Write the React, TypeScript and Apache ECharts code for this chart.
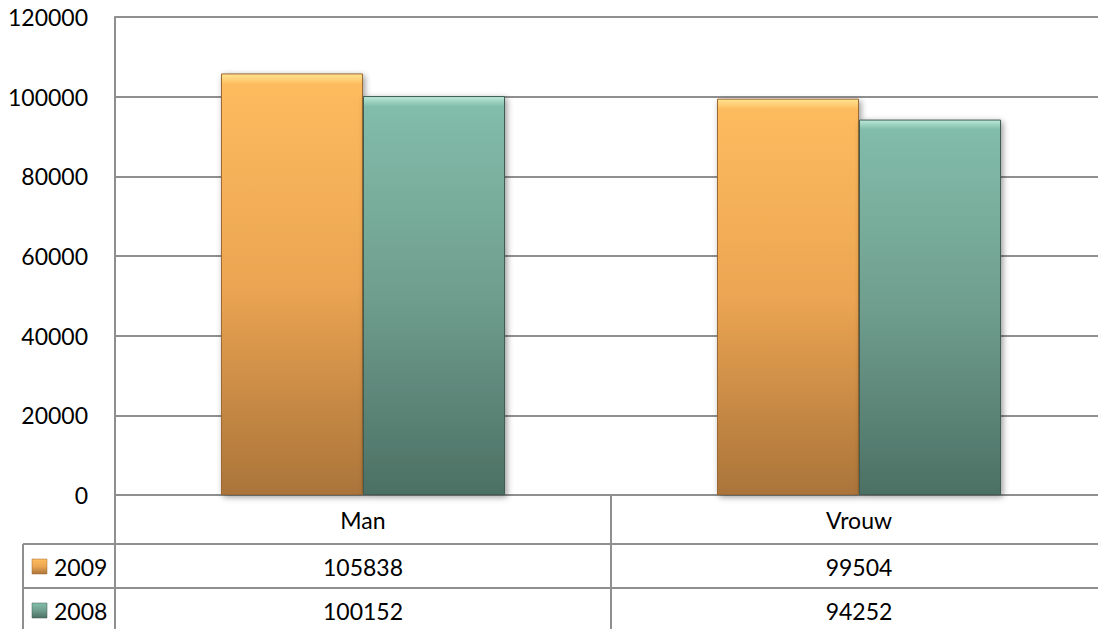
import React, { useEffect, useRef } from "react";
import * as echarts from "echarts";

const categories = ["Man", "Vrouw"];
const seriesNames = ["2009", "2008"];
const values2009 = [105838, 99504];
const values2008 = [100152, 94252];
const yMin = 0;
const yMax = 120000;
const yInterval = 20000;

const FONT = "Lato";
const FS = 23;
const LINE = "#8f8f8f";

const orangeGrad = () =>
  new echarts.graphic.LinearGradient(0, 0, 0, 1, [
    { offset: 0, color: "#ffe390" },
    { offset: 0.012, color: "#ffd27a" },
    { offset: 0.025, color: "#fdbb5e" },
    { offset: 0.5, color: "#eca552" },
    { offset: 1, color: "#aa743a" },
  ]);
const tealGrad = () =>
  new echarts.graphic.LinearGradient(0, 0, 0, 1, [
    { offset: 0, color: "#bdeadb" },
    { offset: 0.012, color: "#9fd3c1" },
    { offset: 0.025, color: "#82bcaa" },
    { offset: 0.5, color: "#6f9e8e" },
    { offset: 1, color: "#4c7064" },
  ]);

export default function App() {
  const ref = useRef<HTMLDivElement>(null);
  useEffect(() => {
    const chart = echarts.init(ref.current!, null, { renderer: "svg" });
    const seriesData = [values2009, values2008];
    const grads = [orangeGrad, tealGrad];
    const borders = ["#9c6a33", "#3f5d53"];
    chart.setOption({
      animation: false,
      backgroundColor: "#ffffff",
      grid: { left: 115, right: 3, top: 17, bottom: 134 },
      xAxis: {
        type: "category",
        data: categories,
        axisLine: { show: true, lineStyle: { color: LINE, width: 2 } },
        axisTick: { show: false },
        axisLabel: {
          margin: 25,
          verticalAlign: "middle",
          fontFamily: FONT,
          fontSize: FS,
          color: "#000",
        },
      },
      yAxis: {
        type: "value",
        min: yMin,
        max: yMax,
        interval: yInterval,
        axisLine: { show: true, lineStyle: { color: LINE, width: 2 } },
        axisTick: { show: false },
        splitLine: { show: true, lineStyle: { color: LINE, width: 2 } },
        axisLabel: {
          margin: 27,
          fontFamily: FONT,
          fontSize: FS,
          color: "#000",
          formatter: (v: number) => String(v),
        },
      },
      series: seriesNames.map((name, i) => ({
        name,
        type: "bar",
        data: seriesData[i],
        barWidth: 142,
        barGap: "0%",
        itemStyle: {
          color: grads[i](),
          borderColor: borders[i],
          borderWidth: 1,
          shadowColor: "rgba(0,0,0,0.4)",
          shadowBlur: 6,
          shadowOffsetX: 2,
          shadowOffsetY: 2,
        },
      })),
    });

    const cx = categories.map(
      (c) => chart.convertToPixel({ xAxisIndex: 0 }, c) as number
    );
    const axisY = chart.convertToPixel({ yAxisIndex: 0 }, 0) as number;
    const catW = cx.length > 1 ? cx[1] - cx[0] : 496;
    const plotLeft = cx[0] - catW / 2;
    const rowH = 44;
    const rowTop = [axisY + 49, axisY + 49 + rowH];
    const tableLeft = 23;
    const W = 1110;
    const H = 629;

    const graphics: any[] = [];
    rowTop.forEach((y) =>
      graphics.push({
        type: "line",
        shape: { x1: tableLeft, y1: y, x2: W, y2: y },
        style: { stroke: LINE, lineWidth: 2 },
      })
    );
    graphics.push({
      type: "line",
      shape: { x1: tableLeft, y1: rowTop[0], x2: tableLeft, y2: H },
      style: { stroke: LINE, lineWidth: 2 },
    });
    graphics.push({
      type: "line",
      shape: { x1: plotLeft, y1: axisY, x2: plotLeft, y2: H },
      style: { stroke: LINE, lineWidth: 2 },
    });
    for (let i = 1; i < categories.length; i++) {
      const x = plotLeft + catW * i;
      graphics.push({
        type: "line",
        shape: { x1: x, y1: axisY, x2: x, y2: H },
        style: { stroke: LINE, lineWidth: 2 },
      });
    }
    seriesNames.forEach((name, r) => {
      const yc = rowTop[r] + rowH / 2 + 1;
      graphics.push({
        type: "rect",
        shape: { x: 32, y: yc - 8, width: 15, height: 15 },
        style: {
          fill: grads[r](),
          stroke: borders[r],
          lineWidth: 0.5,
        },
      });
      graphics.push({
        type: "text",
        x: 54,
        y: yc,
        style: {
          text: name,
          fontFamily: FONT,
          fontSize: FS,
          fill: "#000",
          align: "left",
          verticalAlign: "middle",
        },
      });
      seriesData[r].forEach((v, c) => {
        graphics.push({
          type: "text",
          x: cx[c],
          y: yc,
          style: {
            text: String(v),
            fontFamily: FONT,
            fontSize: FS,
            fill: "#000",
            align: "center",
            verticalAlign: "middle",
          },
        });
      });
    });
    chart.setOption({ graphic: graphics });
    return () => chart.dispose();
  }, []);

  return (
    <div
      style={{
        position: "absolute",
        left: 0,
        top: 0,
        width: 1098,
        height: 629,
        overflow: "hidden",
        background: "#fff",
      }}
    >
      <div ref={ref} style={{ width: 1110, height: 629 }} />
    </div>
  );
}
